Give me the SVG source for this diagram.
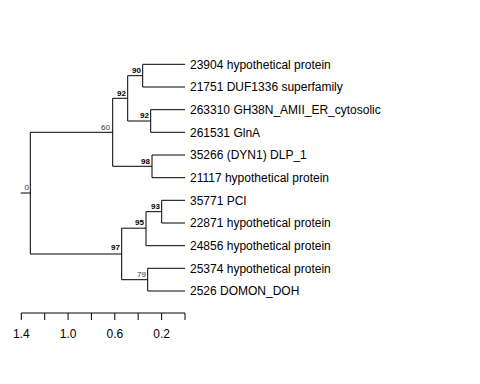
<svg xmlns="http://www.w3.org/2000/svg" width="480" height="384" viewBox="0 0 480 384">
<style>
.br{fill:none;stroke:#000;stroke-width:1}
.leaf{font-family:"Liberation Sans",Arial,sans-serif;font-size:12px;fill:#000}
.bs{font-family:"Liberation Sans",Arial,sans-serif;font-size:8px;text-anchor:end;fill:#000;font-weight:bold}
.bsn{font-family:"Liberation Sans",Arial,sans-serif;font-size:8px;text-anchor:end;fill:#333}
.ax{font-family:"Liberation Sans",Arial,sans-serif;font-size:12px;text-anchor:middle;fill:#000}
</style>
<rect width="480" height="384" fill="#fff"/>
<g id="connectors">
<path class="br" d="M20.7,193 H30.3 M30.3,132.3 V254 M30.3,132.3 H112.7 M30.3,254 H121.7"/>
<path class="br" d="M112.7,98.3 V166.3 M112.7,98.3 H127.7 M112.7,166.3 H152"/>
<path class="br" d="M127.7,75.7 V121 M127.7,75.7 H142.7 M127.7,121 H150.7"/>
<path class="br" d="M142.7,64.3 V87 M142.7,64.3 H185 M142.7,87 H185"/>
<path class="br" d="M150.7,109.7 V132.3 M150.7,109.7 H185 M150.7,132.3 H185"/>
<path class="br" d="M152,155 V177.7 M152,155 H185 M152,177.7 H185"/>
<path class="br" d="M121.7,228.2 V279.7 M121.7,228.2 H146 M121.7,279.7 H147.7"/>
<path class="br" d="M146,211.7 V245.7 M146,211.7 H161.7 M146,245.7 H185"/>
<path class="br" d="M161.7,200.3 V223 M161.7,200.3 H185 M161.7,223 H185"/>
<path class="br" d="M147.7,268.3 V291 M147.7,268.3 H185 M147.7,291 H185"/>
</g>
<g id="bootstrap">
<text class="bsn" x="29" y="190">0</text>
<text class="bsn" x="110" y="130">60</text>
<text class="bs" x="126" y="96">92</text>
<text class="bs" x="141" y="73">90</text>
<text class="bs" x="149" y="118">92</text>
<text class="bs" x="150" y="164">98</text>
<text class="bs" x="120" y="250">97</text>
<text class="bs" x="144" y="225">95</text>
<text class="bs" x="160" y="209">93</text>
<text class="bsn" x="146" y="277">79</text>
</g>
<g id="n23904"><text class="leaf" x="190" y="68.5">23904 hypothetical protein</text></g>
<g id="n21751"><text class="leaf" x="190" y="91.2">21751 DUF1336 superfamily</text></g>
<g id="n263310"><text class="leaf" x="190" y="113.9">263310 GH38N_AMII_ER_cytosolic</text></g>
<g id="n261531"><text class="leaf" x="190" y="136.5">261531 GlnA</text></g>
<g id="n35266"><text class="leaf" x="190" y="159.2">35266 (DYN1) DLP_1</text></g>
<g id="n21117"><text class="leaf" x="190" y="181.9">21117 hypothetical protein</text></g>
<g id="n35771"><text class="leaf" x="190" y="204.5">35771 PCI</text></g>
<g id="n22871"><text class="leaf" x="190" y="227.2">22871 hypothetical protein</text></g>
<g id="n24856"><text class="leaf" x="190" y="249.9">24856 hypothetical protein</text></g>
<g id="n25374"><text class="leaf" x="190" y="272.5">25374 hypothetical protein</text></g>
<g id="n2526"><text class="leaf" x="190" y="295.2">2526 DOMON_DOH</text></g>
<g id="axis">
<path class="br" d="M21.3,313 H185 M21.3,313 V320 M44.7,313 V320 M68.1,313 V320 M91.4,313 V320 M114.8,313 V320 M138.2,313 V320 M161.6,313 V320 M185,313 V320"/>
<text class="ax" x="21.3" y="338">1.4</text>
<text class="ax" x="68.1" y="338">1.0</text>
<text class="ax" x="114.8" y="338">0.6</text>
<text class="ax" x="161.6" y="338">0.2</text>
</g>
</svg>
